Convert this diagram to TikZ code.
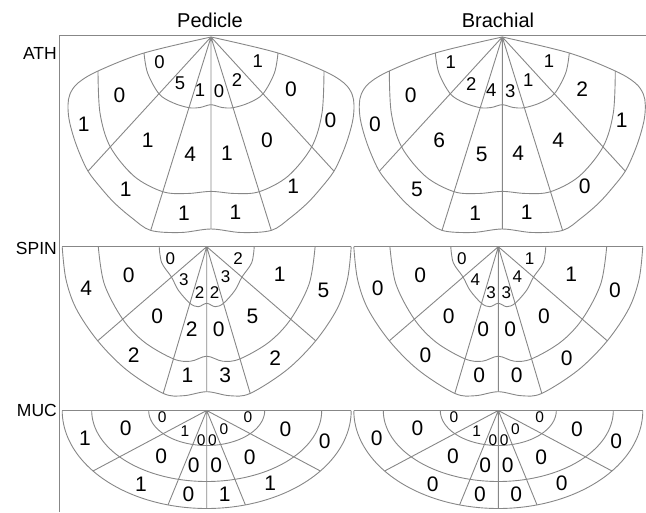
\documentclass[tikz,border=0pt]{standalone}
\usepackage{fontspec}
\setmainfont{Liberation Sans}
\definecolor{lg}{RGB}{135,135,135}
\tikzset{
  seg/.style={draw=lg, line width=0.9pt, line join=round},
  bigl/.style={font=\fontsize{21}{21}\selectfont, inner sep=0pt},
  midl/.style={font=\fontsize{18.5}{18.5}\selectfont, inner sep=0pt},
  spinl/.style={font=\fontsize{17}{17}\selectfont, inner sep=0pt},
  smll/.style={font=\fontsize{15.5}{15.5}\selectfont, inner sep=0pt},
  hdr/.style={font=\fontsize{20}{20}\selectfont, inner sep=0pt, anchor=base},
  rowlab/.style={font=\fontsize{17.5}{17.5}\selectfont, anchor=east, inner sep=0pt},
}
% ---------- shapes (drawn relative to the apex) ----------
\newcommand\athshape{%
 \draw[seg] plot[smooth,tension=0.55] coordinates {(0,0) (-67,16) (-113,34) (-133,46) (-141,57) (-143,68) (-142,82) (-138,98) (-132,115) (-123,134.2) (-110,151) (-96.5,166) (-79,181) (-60.3,193.4) (-30,195.5) (0,192) (30,195.5) (60.3,193.4) (79,181) (96.5,166) (110,151) (123,134.2) (132,115) (138,98) (142,82) (143,68) (141,57) (133,46) (113,34) (67,16) (0,0)};
 \draw[seg] plot[smooth,tension=0.55] coordinates {(-67,16) (-63.4,36) (-52,56.8) (-38,65.8) (-22,70.7) (-11,70.5) (0,67.7) (11,70.5) (22,70.7) (38,65.8) (52,56.8) (63.4,36) (67,16)};
 \draw[seg] plot[smooth,tension=0.55] coordinates {(-113,34) (-111,76) (-100.7,109.9) (-76.7,139.4) (-48.2,154.7) (-24,156.5) (0,154.4) (24,156.5) (48.2,154.7) (76.7,139.4) (100.7,109.9) (111,76) (113,34)};
 \coordinate (r1) at (-123,134.2); \coordinate (r2) at (-60.3,193.4); \coordinate (r3) at (0,192);
 \coordinate (r4) at (60.3,193.4); \coordinate (r5) at (123,134.2); \coordinate (ap) at (0,0);
 \draw[seg] (ap) -- (r1) (ap) -- (r2) (ap) -- (r3) (ap) -- (r4) (ap) -- (r5);
}
\newcommand\spinshape{%
 \draw[seg] (-144.5,0) -- (144.5,0);
 \draw[seg] plot[smooth,tension=0.55] coordinates {(-144.5,0) (-140.8,32.4) (-130.5,62) (-109,94.1) (-80,123.3) (-43.5,146.7) (-23,149) (0,145) (23,149) (43.5,146.7) (80,123.3) (109,94.1) (130.5,62) (140.8,32.4) (144.5,0)};
 \draw[seg] plot[smooth,tension=0.55] coordinates {(-47.5,0) (-45,16) (-35.2,30.4) (-28.3,43.6) (-16.8,56.6) (-8.5,60) (0,56.6) (8.5,60) (16.8,56.6) (28.3,43.6) (35.2,30.4) (45,16) (47.5,0)};
 \draw[seg] plot[smooth,tension=0.55] coordinates {(-108.4,0) (-102.4,37.3) (-84,72.5) (-62.1,95.6) (-33.2,112.2) (-16,114.5) (0,109.5) (16,114.5) (33.2,112.2) (62.1,95.6) (84,72.5) (102.4,37.3) (108.4,0)};
 \coordinate (r1) at (-109,94.1); \coordinate (r2) at (-43.5,146.7); \coordinate (r3) at (0,145);
 \coordinate (r4) at (43.5,146.7); \coordinate (r5) at (109,94.1); \coordinate (ap) at (0,0);
 \draw[seg] (ap) -- (r1) (ap) -- (r2) (ap) -- (r3) (ap) -- (r4) (ap) -- (r5);
}
\newcommand\mucshape{%
 \draw[seg] (-144.5,0) -- (144.5,0);
 \draw[seg] plot[domain=0:180,samples=91] ({144.5*cos(\x)},{98*sin(\x)});
 \draw[seg] plot[domain=0:180,samples=91] ({115*cos(\x)},{71*sin(\x)});
 \draw[seg] plot[domain=0:180,samples=91] ({58*cos(\x)},{35*sin(\x)});
 \coordinate (r1) at (-113.7,60.5); \coordinate (r2) at (-38.7,94.4); \coordinate (r3) at (0,98);
 \coordinate (r4) at (38.7,94.4); \coordinate (r5) at (113.7,60.5); \coordinate (ap) at (0,0);
 \draw[seg] (ap) -- (r1) (ap) -- (r2) (ap) -- (r3) (ap) -- (r4) (ap) -- (r5);
}
% ---------- labels ----------
\newcommand\athin[7]{%
 \node[midl] (#1a) at (-51.5,25) {#2}; \node[midl] (#1b) at (-31,46.7) {#3};
 \node[midl] (#1c) at (-11,53) {#4}; \node[midl] (#1d) at (8,54.2) {#5};
 \node[midl] (#1e) at (26,43.4) {#6}; \node[midl] (#1f) at (46.8,24.5) {#7};}
\newcommand\athmid[7]{%
 \node[bigl] (#1a) at (-91.5,58.4) {#2}; \node[bigl] (#1b) at (-63.2,103.4) {#3};
 \node[bigl] (#1c) at (-20.7,117) {#4}; \node[bigl] (#1d) at (16,116.2) {#5};
 \node[bigl] (#1e) at (56,103.7) {#6}; \node[bigl] (#1f) at (79.9,52.2) {#7};}
\newcommand\athout[7]{%
 \node[bigl] (#1a) at (-127.3,87.5) {#2}; \node[bigl] (#1b) at (-85.4,152.5) {#3};
 \node[bigl] (#1c) at (-27,175.8) {#4}; \node[bigl] (#1d) at (24.4,175) {#5};
 \node[bigl] (#1e) at (82.3,149.2) {#6}; \node[bigl] (#1f) at (119.4,83.4) {#7};}
\newcommand\spinin[7]{%
 \node[spinl] (#1a) at (-36.4,12.2) {#2}; \node[spinl] (#1b) at (-22.9,32.5) {#3};
 \node[spinl] (#1c) at (-7.2,45.5) {#4}; \node[spinl] (#1d) at (8,45.5) {#5};
 \node[spinl] (#1e) at (19,30) {#6}; \node[spinl] (#1f) at (31.3,12.2) {#7};}
\newcommand\spinmid[7]{%
 \node[bigl] (#1a) at (-78,28.5) {#2}; \node[bigl] (#1b) at (-49.5,69.7) {#3};
 \node[bigl] (#1c) at (-15,82.2) {#4}; \node[bigl] (#1d) at (12,83) {#5};
 \node[bigl] (#1e) at (45.7,69.2) {#6}; \node[bigl] (#1f) at (73,27.7) {#7};}
\newcommand\spinout[7]{%
 \node[bigl] (#1a) at (-120.5,41.8) {#2}; \node[bigl] (#1b) at (-72.9,108.9) {#3};
 \node[bigl] (#1c) at (-19.2,128.9) {#4}; \node[bigl] (#1d) at (18.4,128.5) {#5};
 \node[bigl] (#1e) at (68.4,111.3) {#6}; \node[bigl] (#1f) at (116.7,43.9) {#7};}
\newcommand\mucin[7]{%
 \node[smll] (#1a) at (-44.4,6.2) {#2}; \node[smll] (#1b) at (-21.7,20.9) {#3};
 \node[smll] (#1c) at (-5.4,29.5) {#4}; \node[smll] (#1d) at (5.8,29.5) {#5};
 \node[smll] (#1e) at (17.2,18.7) {#6}; \node[smll] (#1f) at (41.3,7) {#7};}
\newcommand\mucmid[7]{%
 \node[bigl] (#1a) at (-80.9,17.5) {#2}; \node[bigl] (#1b) at (-45.4,45.9) {#3};
 \node[bigl] (#1c) at (-13,54.8) {#4}; \node[bigl] (#1d) at (9.5,54.7) {#5};
 \node[bigl] (#1e) at (43,46.7) {#6}; \node[bigl] (#1f) at (78.7,19.2) {#7};}
\newcommand\mucout[7]{%
 \node[bigl] (#1a) at (-121.7,27.5) {#2}; \node[bigl] (#1b) at (-65.7,73.3) {#3};
 \node[bigl] (#1c) at (-18.3,83.5) {#4}; \node[bigl] (#1d) at (18,83.7) {#5};
 \node[bigl] (#1e) at (63.4,72.8) {#6}; \node[bigl] (#1f) at (118,30.5) {#7};}
\begin{document}
\begin{tikzpicture}[x=1pt,y=-1pt]
\useasboundingbox (0,0) rectangle (646,512);
% frame
\coordinate (f0) at (59,512); \coordinate (f1) at (59,35); \coordinate (f2) at (646,35);
\draw[seg] (f0) -- (f1) -- (f2);
% headers
\node[hdr] (hped) at (210,27.3) {Pedicle};
\node[hdr] (hbra) at (498,27.3) {Brachial};
\node[rowlab] (lath) at (57,53.5) {ATH};
\node[rowlab] (lspin) at (57,248.3) {SPIN};
\node[rowlab] (lmuc) at (57,410) {MUC};
% ATH
\begin{scope}[shift={(211,37)}]
 \athshape
 \athin{pai}{0}{5}{1}{0}{2}{1}
 \athmid{pam}{0}{1}{4}{1}{0}{0}
 \athout{pao}{1}{1}{1}{1}{1}{0}
\end{scope}
\begin{scope}[shift={(502.3,37)}]
 \athshape
 \athin{bai}{1}{2}{4}{3}{1}{1}
 \athmid{bam}{0}{6}{5}{4}{4}{2}
 \athout{bao}{0}{5}{1}{1}{0}{1}
\end{scope}
% SPIN
\begin{scope}[shift={(206.7,246.7)}]
 \spinshape
 \spinin{psi}{0}{3}{2}{2}{3}{2}
 \spinmid{psm}{0}{0}{2}{0}{5}{1}
 \spinout{pso}{4}{2}{1}{3}{2}{5}
\end{scope}
\begin{scope}[shift={(498.3,246.7)}]
 \spinshape
 \spinin{bsi}{0}{4}{3}{3}{4}{1}
 \spinmid{bsm}{0}{0}{0}{0}{0}{1}
 \spinout{bso}{0}{0}{0}{0}{0}{0}
\end{scope}
% MUC
\begin{scope}[shift={(206.7,410.5)}]
 \mucshape
 \mucin{pmi}{0}{1}{0}{0}{0}{0}
 \mucmid{pmm}{0}{0}{0}{0}{0}{0}
 \mucout{pmo}{1}{1}{0}{1}{1}{0}
\end{scope}
\begin{scope}[shift={(498.3,410.5)}]
 \mucshape
 \mucin{bmi}{0}{1}{0}{0}{0}{0}
 \mucmid{bmm}{0}{0}{0}{0}{0}{0}
 \mucout{bmo}{0}{0}{0}{0}{0}{0}
\end{scope}
\end{tikzpicture}
\end{document}
